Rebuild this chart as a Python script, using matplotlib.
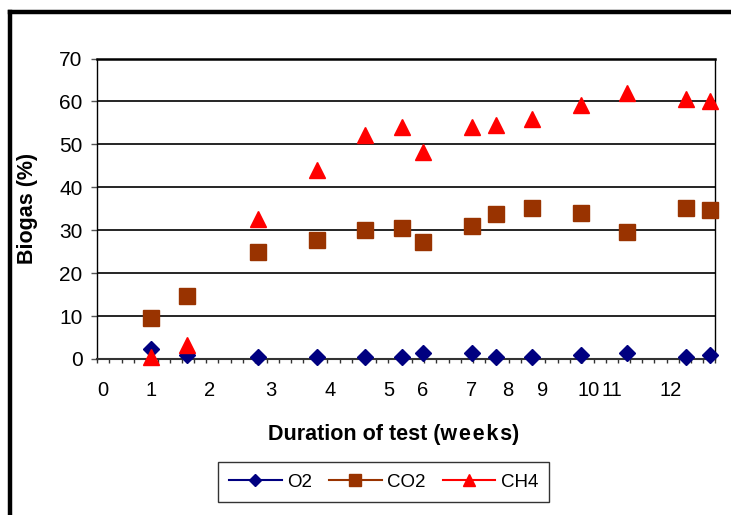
import numpy as np
import matplotlib
matplotlib.use('Agg')
import matplotlib.pyplot as plt
from matplotlib.lines import Line2D

plt.rcParams['font.family'] = ['Liberation Sans', 'DejaVu Sans']

# x positions on the day-tick axis (one minor tick per unit)
x_pos   = [4.41, 7.39, 13.26, 18.13, 22.1, 25.16, 26.9, 30.9, 32.9, 35.9, 39.9, 43.7, 48.6, 50.6]
o2      = [2.3, 1.0, 0.4, 0.4, 0.4, 0.4, 1.5, 1.5, 0.4, 0.4, 0.9, 1.5, 0.4, 0.9]
co2     = [9.6, 14.7, 25.0, 27.7, 30.0, 30.5, 27.2, 30.9, 33.8, 35.2, 34.0, 29.7, 35.2, 34.8]
ch4     = [0.5, 3.2, 32.5, 44.1, 52.1, 54.1, 48.2, 54.1, 54.5, 55.9, 59.1, 62.0, 60.5, 60.0]

week_pos    = [0.45, 4.44, 9.3, 14.3, 19.2, 24.1, 26.9, 30.9, 33.9, 36.8, 40.55, 42.5, 47.3]
week_labels = ['0', '1', '2', '3', '4', '5', '6', '7', '8', '9', '10', '11', '12']

W, H = 731, 515
fig = plt.figure(figsize=(W / 100, H / 100), dpi=100)
ax = fig.add_axes([97.3 / W, 1 - 359 / H, (715 - 97.3) / W, (359 - 58.5) / H])

# ── Series ────────────────────────────────────────────────────────────
ax.plot(x_pos, o2,  ls='none', marker='D', ms=8.6, color='#000080', mec='#000080',
        label='O2', clip_on=False, zorder=3)
ax.plot(x_pos, co2, ls='none', marker='s', ms=11.3, color='#993300', mec='#993300',
        label='CO2', clip_on=False, zorder=4)
ax.plot(x_pos, ch4, ls='none', marker='^', ms=11.5, color='#FF0000', mec='#FF0000',
        label='CH4', clip_on=False, zorder=5)

# ── Axes ──────────────────────────────────────────────────────────────
ax.set_xlim(0, 51)
ax.set_ylim(0, 70)
ax.set_yticks(np.arange(0, 71, 10))
ax.yaxis.grid(True, color='black', lw=1.2)
ax.set_axisbelow(True)

ax.set_xticks(week_pos)
ax.set_xticklabels(week_labels)
ax.set_xticks(np.arange(0, 52), minor=True)
ax.tick_params(axis='x', which='major', length=0, pad=16, labelsize=14.5)
ax.tick_params(axis='x', which='minor', length=3, width=1, color='#333333', direction='out')
ax.tick_params(axis='y', length=4.5, width=1, color='#555555', pad=6, labelsize=15)

for s in ['left', 'right']:
    ax.spines[s].set_color('black')
    ax.spines[s].set_linewidth(1)
ax.spines['top'].set_color('black')
ax.spines['top'].set_linewidth(1.8)
ax.spines['bottom'].set_color('#333333')
ax.spines['bottom'].set_linewidth(1.5)

ax.set_ylabel('Biogas (%)', fontsize=15.5, fontweight='bold')
ax.yaxis.set_label_coords((27 - 97.3) / 617.7, 0.5)
ax.yaxis.label.set_va('center')
ax.set_xlabel('Duration of test (w\u200ae\u200ae\u200ak\u200as)', fontsize=15.5, fontweight='bold')
ax.xaxis.set_label_coords(0.4795, -0.251)
ax.xaxis.label.set_va('center')

# ── Legend ────────────────────────────────────────────────────────────
handles = [
    Line2D([], [], color='#000080', lw=1.5, marker='D', ms=8.6, label='O2'),
    Line2D([], [], color='#993300', lw=1.5, marker='s', ms=11.3, label='CO2'),
    Line2D([], [], color='#FF0000', lw=1.5, marker='^', ms=11.5, label='CH4'),
]
leg = fig.legend(handles=handles, loc='center', bbox_to_anchor=(383.5 / W, 1 - 482 / H),
                 ncol=3, fontsize=13.5, frameon=True, fancybox=False, edgecolor='black',
                 handlelength=2.8, handletextpad=0.3, columnspacing=0.9,
                 markerscale=0.75, borderpad=0.6)
leg.get_frame().set_linewidth(1.0)

# ── Outer frame (only left and top visible) ───────────────────────────
fig.add_artist(Line2D([9.5 / W, 9.5 / W], [-0.01, 1 - 11.5 / H], color='black', lw=3.2))
fig.add_artist(Line2D([9.5 / W, 1.01], [1 - 11.5 / H, 1 - 11.5 / H], color='black', lw=3.2))

plt.savefig('out.png', dpi=100)
plt.close()
